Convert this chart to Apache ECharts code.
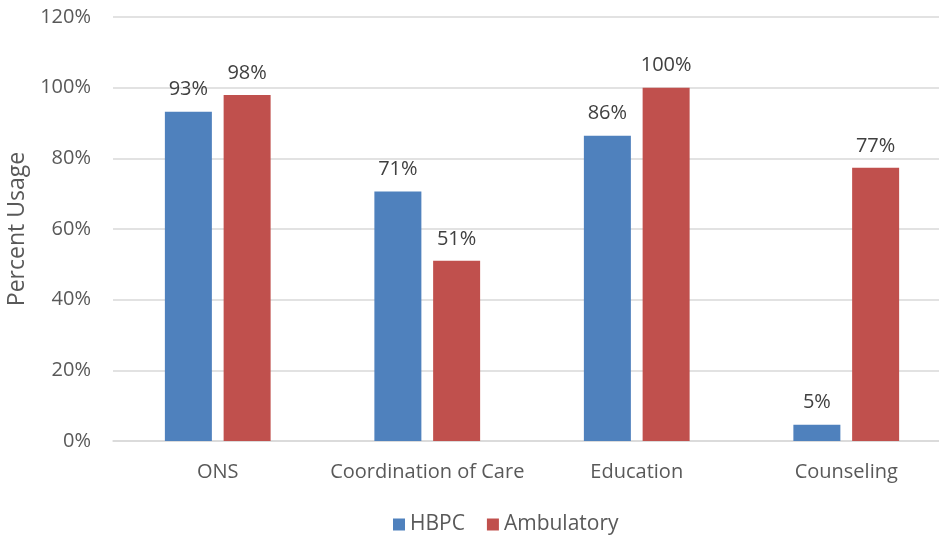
<!DOCTYPE html>
<html>
<head>
<meta charset="utf-8">
<script src="https://cdn.jsdelivr.net/npm/echarts@6/dist/echarts.min.js"></script>
<style>
  html, body { margin: 0; padding: 0; background: #fff; }
  #chart { width: 939px; height: 536px; }
</style>
</head>
<body>
<div id="chart"></div>
<script>
var categories = ['ONS', 'Coordination of Care', 'Education', 'Counseling'];
var hbpc = [93.2, 70.6, 86.4, 4.6];
var ambulatory = [97.9, 51.0, 100, 77.3];
var yTicks = [0, 20, 40, 60, 80, 100, 120];

var font = '"Open Sans", "Liberation Sans", sans-serif';

var myChart = echarts.init(document.getElementById('chart'));
var option = {
    animation: false,
    textStyle: { fontFamily: font },
    grid: {
        left: 113,
        width: 838,
        top: 17,
        bottom: 95,
        outerBoundsMode: 'none'
    },
    legend: {
        top: 509,
        left: 388,
        itemWidth: 12,
        itemHeight: 12,
        itemGap: 22,
        icon: 'rect',
        textStyle: { fontSize: 21, color: '#595959', fontFamily: font },
        data: ['HBPC', 'Ambulatory']
    },
    xAxis: {
        type: 'category',
        data: categories,
        axisTick: { show: false },
        axisLine: { lineStyle: { color: '#d9d9d9', width: 1.5 } },
        axisLabel: { interval: 0, fontSize: 20, color: '#595959', margin: 21, fontFamily: font }
    },
    yAxis: {
        type: 'value',
        min: yTicks[0],
        max: yTicks[yTicks.length - 1],
        interval: 20,
        name: 'Percent Usage',
        nameLocation: 'middle',
        nameGap: 82,
        nameTextStyle: { fontSize: 23, color: '#595959', fontFamily: font },
        axisLine: { show: false },
        axisTick: { show: false },
        splitLine: { lineStyle: { color: '#d9d9d9', width: 1.5 } },
        axisLabel: {
            fontSize: 20, color: '#595959', margin: 22, fontFamily: font,
            formatter: function (v) { return v + '%'; }
        }
    },
    series: [
        {
            name: 'HBPC',
            type: 'bar',
            data: hbpc,
            barWidth: 47,
            barGap: '25%',
            itemStyle: { color: '#4f81bd' },
            label: {
                show: true, position: 'top', distance: 12,
                fontSize: 20, color: '#404040', fontFamily: font,
                formatter: function (p) { return Math.round(p.value) + '%'; }
            }
        },
        {
            name: 'Ambulatory',
            type: 'bar',
            data: ambulatory,
            barWidth: 47,
            itemStyle: { color: '#c0504d' },
            label: {
                show: true, position: 'top', distance: 12,
                fontSize: 20, color: '#404040', fontFamily: font,
                formatter: function (p) { return Math.round(p.value) + '%'; }
            }
        }
    ]
};
myChart.setOption(option);
</script>
</body>
</html>
